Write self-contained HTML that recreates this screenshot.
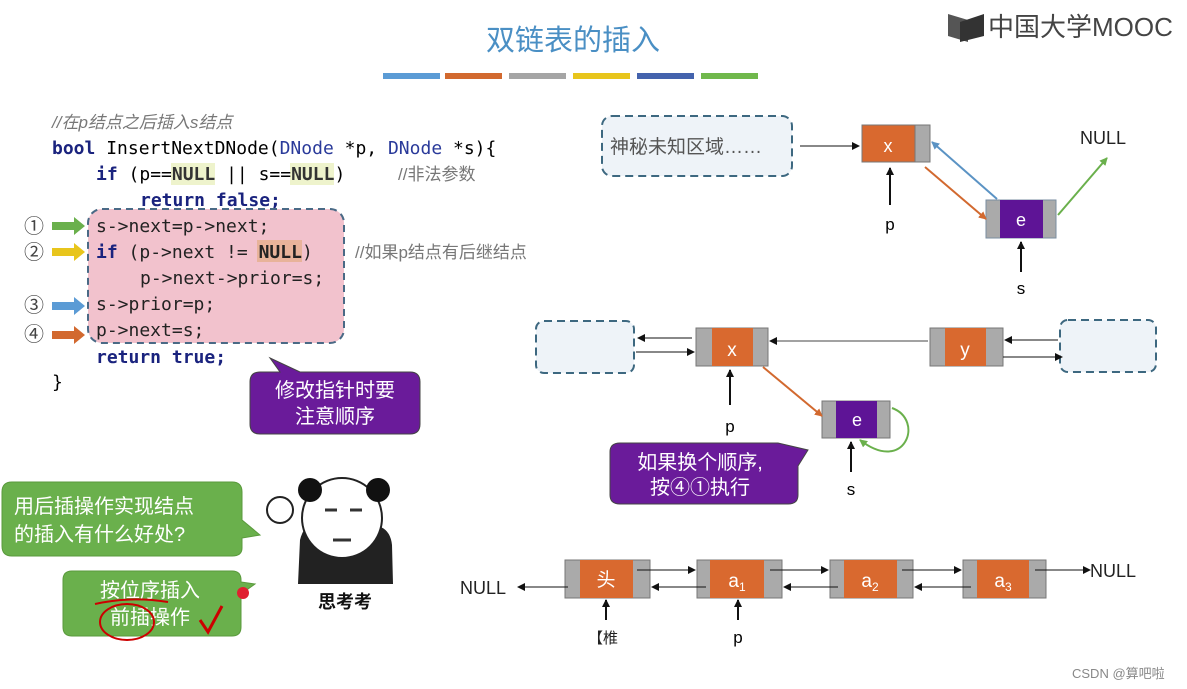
<!DOCTYPE html>
<html><head><meta charset="utf-8"><style>
body{margin:0;width:1187px;height:689px;background:#fff;overflow:hidden}
svg{display:block}
.m{font-family:"DejaVu Sans Mono","Liberation Mono",monospace;font-size:18px}
.c{font-family:"Liberation Sans","Noto Sans CJK SC",sans-serif}
</style></head><body>
<svg width="1187" height="689" viewBox="0 0 1187 689">
<defs>
<marker id="a" markerWidth="8" markerHeight="8" refX="7" refY="4" orient="auto" markerUnits="userSpaceOnUse"><path d="M0,0 L8,4 L0,8z" fill="#111"/></marker>
<marker id="ab" markerWidth="8" markerHeight="8" refX="7" refY="4" orient="auto" markerUnits="userSpaceOnUse"><path d="M0,0 L8,4 L0,8z" fill="#5b93c4"/></marker>
<marker id="ao" markerWidth="8" markerHeight="8" refX="7" refY="4" orient="auto" markerUnits="userSpaceOnUse"><path d="M0,0 L8,4 L0,8z" fill="#d2692f"/></marker>
<marker id="ag" markerWidth="8" markerHeight="8" refX="7" refY="4" orient="auto" markerUnits="userSpaceOnUse"><path d="M0,0 L8,4 L0,8z" fill="#6ab04c"/></marker>
</defs>
<text x="573" y="50" text-anchor="middle" class="c" font-size="29" fill="#4a8fc4">双链表的插入</text>
<rect x="383" y="73" width="57" height="6" fill="#5b9bd5"/>
<rect x="445" y="73" width="57" height="6" fill="#d2692f"/>
<rect x="509" y="73" width="57" height="6" fill="#a5a5a5"/>
<rect x="573" y="73" width="57" height="6" fill="#e8c51c"/>
<rect x="637" y="73" width="57" height="6" fill="#4463ad"/>
<rect x="701" y="73" width="57" height="6" fill="#70b84c"/>
<path d="M948,14 L968,20 L968,42 L948,36z" fill="#555"/><path d="M960,22 L984,14 L984,36 L960,42z" fill="#333"/>
<text x="988" y="36" class="c" font-size="26" fill="#444">中国大学MOOC</text>
<text x="52" y="128" class="c" font-size="17" fill="#777" font-style="italic">//在p结点之后插入s结点</text>
<text x="52" y="154" class="m"><tspan fill="#1a237e" font-weight="bold">bool</tspan> InsertNextDNode(<tspan fill="#2a3a9a">DNode</tspan> *p, <tspan fill="#2a3a9a">DNode</tspan> *s){</text>
<rect x="171" y="163" width="44" height="22" fill="#eef3cc"/><rect x="290" y="163" width="44" height="22" fill="#eef3cc"/>
<text x="96" y="180" class="m"><tspan fill="#1a237e" font-weight="bold">if</tspan> (p==<tspan font-weight="bold" fill="#333">NULL</tspan> || s==<tspan font-weight="bold" fill="#333">NULL</tspan>)</text>
<text x="398" y="180" class="c" font-size="17" fill="#777">//非法参数</text>
<text x="140" y="206" class="m" fill="#1a237e" font-weight="bold">return false;</text>
<rect x="88" y="209" width="256" height="134" rx="14" fill="#f2c2cd" stroke="#4a6a86" stroke-width="2" stroke-dasharray="7,5"/>
<rect x="257" y="240" width="45" height="22" fill="#e8b39a"/>
<text x="96" y="232" class="m" fill="#222">s-&gt;next=p-&gt;next;</text>
<text x="96" y="258" class="m" fill="#222"><tspan fill="#1a237e" font-weight="bold">if</tspan> (p-&gt;next != <tspan font-weight="bold">NULL</tspan>)</text>
<text x="140" y="284" class="m" fill="#222">p-&gt;next-&gt;prior=s;</text>
<text x="96" y="310" class="m" fill="#222">s-&gt;prior=p;</text>
<text x="96" y="336" class="m" fill="#222">p-&gt;next=s;</text>
<text x="96" y="363" class="m" fill="#1a237e" font-weight="bold">return true;</text>
<text x="52" y="388" class="m">}</text>
<text x="355" y="258" class="c" font-size="17" fill="#777">//如果p结点有后继结点</text>
<g class="c" font-size="20" fill="#444">
<text x="24" y="233">①</text><text x="24" y="259">②</text><text x="24" y="312">③</text><text x="24" y="341">④</text></g>
<path d="M52,222 h22 v-5 l11,9 -11,9 v-5 h-22z" fill="#6ab04c"/>
<path d="M52,248 h22 v-5 l11,9 -11,9 v-5 h-22z" fill="#e8c51c"/>
<path d="M52,302 h22 v-5 l11,9 -11,9 v-5 h-22z" fill="#5b9bd5"/>
<path d="M52,331 h22 v-5 l11,9 -11,9 v-5 h-22z" fill="#d2692f"/>
<path d="M270,358 L300,372 L410,372 Q420,372 420,382 L420,424 Q420,434 410,434 L260,434 Q250,434 250,424 L250,382 Q250,372 260,372 L280,372z" fill="#6a1b9a" stroke="#444"/>
<text x="335" y="397" text-anchor="middle" class="c" font-size="20" fill="#fff">修改指针时要</text>
<text x="335" y="423" text-anchor="middle" class="c" font-size="20" fill="#fff">注意顺序</text>
<rect x="602" y="116" width="190" height="60" rx="10" fill="#eef3f8" stroke="#3d6880" stroke-width="2" stroke-dasharray="8,5"/>
<text x="610" y="153" class="c" font-size="19" fill="#555">神秘未知区域……</text>
<line x1="800" y1="146" x2="859" y2="146" stroke="#111" marker-end="url(#a)"/>
<rect x="862" y="125" width="53" height="37" fill="#d9692f" stroke="#777"/><rect x="915" y="125" width="15" height="37" fill="#aaa" stroke="#777"/>
<text x="888" y="152" text-anchor="middle" class="c" font-size="18" fill="#fff">x</text>
<line x1="890" y1="205" x2="890" y2="168" stroke="#111" stroke-width="2" marker-end="url(#a)"/>
<text x="890" y="230" text-anchor="middle" class="c" font-size="17">p</text>
<rect x="986" y="200" width="70" height="38" fill="#aaa" stroke="#7a8ea0"/><rect x="1000" y="200" width="43" height="38" fill="#5e1496"/>
<text x="1021" y="226" text-anchor="middle" class="c" font-size="18" fill="#fff">e</text>
<line x1="997" y1="199" x2="932" y2="142" stroke="#5b93c4" stroke-width="2" marker-end="url(#ab)"/>
<line x1="925" y1="167" x2="986" y2="219" stroke="#d2692f" stroke-width="2" marker-end="url(#ao)"/>
<line x1="1058" y1="215" x2="1107" y2="158" stroke="#6ab04c" stroke-width="2" marker-end="url(#ag)"/>
<text x="1080" y="144" class="c" font-size="18" fill="#222">NULL</text>
<line x1="1021" y1="272" x2="1021" y2="242" stroke="#111" stroke-width="2" marker-end="url(#a)"/>
<text x="1021" y="294" text-anchor="middle" class="c" font-size="17">s</text>
<rect x="536" y="321" width="98" height="52" rx="8" fill="#eef3f8" stroke="#3d6880" stroke-width="2" stroke-dasharray="8,5"/>
<rect x="1060" y="320" width="96" height="52" rx="8" fill="#eef3f8" stroke="#3d6880" stroke-width="2" stroke-dasharray="8,5"/>
<rect x="696" y="328" width="72" height="38" fill="#aaa" stroke="#777"/><rect x="712" y="328" width="41" height="38" fill="#d9692f"/>
<text x="732" y="356" text-anchor="middle" class="c" font-size="19" fill="#fff">x</text>
<rect x="930" y="328" width="73" height="38" fill="#aaa" stroke="#777"/><rect x="945" y="328" width="41" height="38" fill="#d9692f"/>
<text x="965" y="356" text-anchor="middle" class="c" font-size="19" fill="#fff">y</text>
<line x1="692" y1="338" x2="638" y2="338" stroke="#111" marker-end="url(#a)"/>
<line x1="636" y1="352" x2="694" y2="352" stroke="#111" marker-end="url(#a)"/>
<line x1="928" y1="341" x2="770" y2="341" stroke="#444" marker-end="url(#a)"/>
<line x1="1058" y1="340" x2="1005" y2="340" stroke="#111" marker-end="url(#a)"/>
<line x1="1003" y1="357" x2="1062" y2="357" stroke="#111" marker-end="url(#a)"/>
<line x1="730" y1="405" x2="730" y2="370" stroke="#111" stroke-width="2" marker-end="url(#a)"/>
<text x="730" y="432" text-anchor="middle" class="c" font-size="17">p</text>
<rect x="822" y="401" width="68" height="37" fill="#aaa" stroke="#777"/><rect x="836" y="401" width="41" height="37" fill="#5e1496"/>
<text x="857" y="426" text-anchor="middle" class="c" font-size="18" fill="#fff">e</text>
<line x1="763" y1="367" x2="822" y2="416" stroke="#d2692f" stroke-width="2" marker-end="url(#ao)"/>
<path d="M892,408 C925,420 905,475 860,440" fill="none" stroke="#6ab04c" stroke-width="2" marker-end="url(#ag)"/>
<line x1="851" y1="472" x2="851" y2="442" stroke="#111" stroke-width="2" marker-end="url(#a)"/>
<text x="851" y="495" text-anchor="middle" class="c" font-size="17">s</text>
<path d="M620,443 L778,443 L808,450 L798,466 L798,495 Q798,504 788,504 L620,504 Q610,504 610,495 L610,452 Q610,443 620,443z" fill="#6a1b9a" stroke="#444"/>
<text x="700" y="469" text-anchor="middle" class="c" font-size="20" fill="#fff">如果换个顺序,</text>
<text x="700" y="494" text-anchor="middle" class="c" font-size="20" fill="#fff">按④①执行</text>
<g stroke="#777">
<rect x="565" y="560" width="85" height="38" fill="#aaa"/><rect x="580" y="560" width="53" height="38" fill="#d9692f" stroke="none"/>
<rect x="697" y="560" width="85" height="38" fill="#aaa"/><rect x="710" y="560" width="54" height="38" fill="#d9692f" stroke="none"/>
<rect x="830" y="560" width="83" height="38" fill="#aaa"/><rect x="844" y="560" width="53" height="38" fill="#d9692f" stroke="none"/>
<rect x="963" y="560" width="83" height="38" fill="#aaa"/><rect x="977" y="560" width="52" height="38" fill="#d9692f" stroke="none"/>
</g>
<text x="606" y="586" text-anchor="middle" class="c" font-size="19" fill="#fff">头</text>
<text x="737" y="587" text-anchor="middle" class="c" font-size="19" fill="#fff">a<tspan font-size="12" dy="4">1</tspan></text>
<text x="870" y="587" text-anchor="middle" class="c" font-size="19" fill="#fff">a<tspan font-size="12" dy="4">2</tspan></text>
<text x="1003" y="587" text-anchor="middle" class="c" font-size="19" fill="#fff">a<tspan font-size="12" dy="4">3</tspan></text>
<line x1="637" y1="570" x2="695" y2="570" stroke="#111" marker-end="url(#a)"/>
<line x1="770" y1="570" x2="828" y2="570" stroke="#111" marker-end="url(#a)"/>
<line x1="902" y1="570" x2="961" y2="570" stroke="#111" marker-end="url(#a)"/>
<line x1="1035" y1="570" x2="1090" y2="570" stroke="#111" marker-end="url(#a)"/>
<line x1="706" y1="587" x2="652" y2="587" stroke="#111" marker-end="url(#a)"/>
<line x1="838" y1="587" x2="784" y2="587" stroke="#111" marker-end="url(#a)"/>
<line x1="971" y1="587" x2="915" y2="587" stroke="#111" marker-end="url(#a)"/>
<line x1="568" y1="587" x2="518" y2="587" stroke="#111" marker-end="url(#a)"/>
<text x="460" y="594" class="c" font-size="18" fill="#222">NULL</text>
<text x="1090" y="577" class="c" font-size="18" fill="#222">NULL</text>
<line x1="606" y1="620" x2="606" y2="600" stroke="#111" stroke-width="2" marker-end="url(#a)"/>
<line x1="738" y1="620" x2="738" y2="600" stroke="#111" stroke-width="2" marker-end="url(#a)"/>
<text x="738" y="643" text-anchor="middle" class="c" font-size="17">p</text>
<text x="588" y="643" class="c" font-size="15" fill="#222">【椎</text>
<path d="M12,482 L232,482 Q242,482 242,492 L242,520 L260,535 L242,538 L242,548 Q242,556 232,556 L12,556 Q2,556 2,546 L2,492 Q2,482 12,482z" fill="#6ab04c" stroke="#5a9a3c"/>
<text x="14" y="513" class="c" font-size="20" fill="#fff">用后插操作实现结点</text>
<text x="14" y="541" class="c" font-size="20" fill="#fff">的插入有什么好处?</text>
<path d="M72,571 L232,571 Q241,571 241,580 L241,582 L255,584 L241,594 L241,627 Q241,636 232,636 L72,636 Q63,636 63,627 L63,580 Q63,571 72,571z" fill="#6ab04c" stroke="#5a9a3c"/>
<text x="150" y="597" text-anchor="middle" class="c" font-size="20" fill="#fff">按位序插入</text>
<text x="150" y="624" text-anchor="middle" class="c" font-size="20" fill="#fff">前插操作</text>
<path d="M95,604 Q130,596 168,602" fill="none" stroke="#c00" stroke-width="2"/>
<ellipse cx="127" cy="622" rx="27" ry="18" fill="none" stroke="#c00" stroke-width="2"/>
<path d="M200,620 L208,632 L222,606" fill="none" stroke="#c00" stroke-width="3"/>
<circle cx="243" cy="593" r="6" fill="#e02030"/>
<circle cx="280" cy="510" r="13" fill="#fff" stroke="#222" stroke-width="2"/>
<path d="M298,584 L300,540 Q305,520 320,525 L370,525 Q390,525 392,545 L393,584z" fill="#222"/>
<ellipse cx="342" cy="518" rx="40" ry="40" fill="#fff" stroke="#222" stroke-width="2"/>
<circle cx="310" cy="490" r="12" fill="#111"/><circle cx="378" cy="490" r="12" fill="#111"/>
<path d="M325,510 h12 M350,510 h12 M333,540 h18" stroke="#333" stroke-width="3"/>
<text x="345" y="608" text-anchor="middle" class="c" font-size="18" font-weight="bold" fill="#111">思考考</text>
<text x="1072" y="678" class="c" font-size="13" fill="#888">CSDN @算吧啦</text>
</svg>
</body></html>
